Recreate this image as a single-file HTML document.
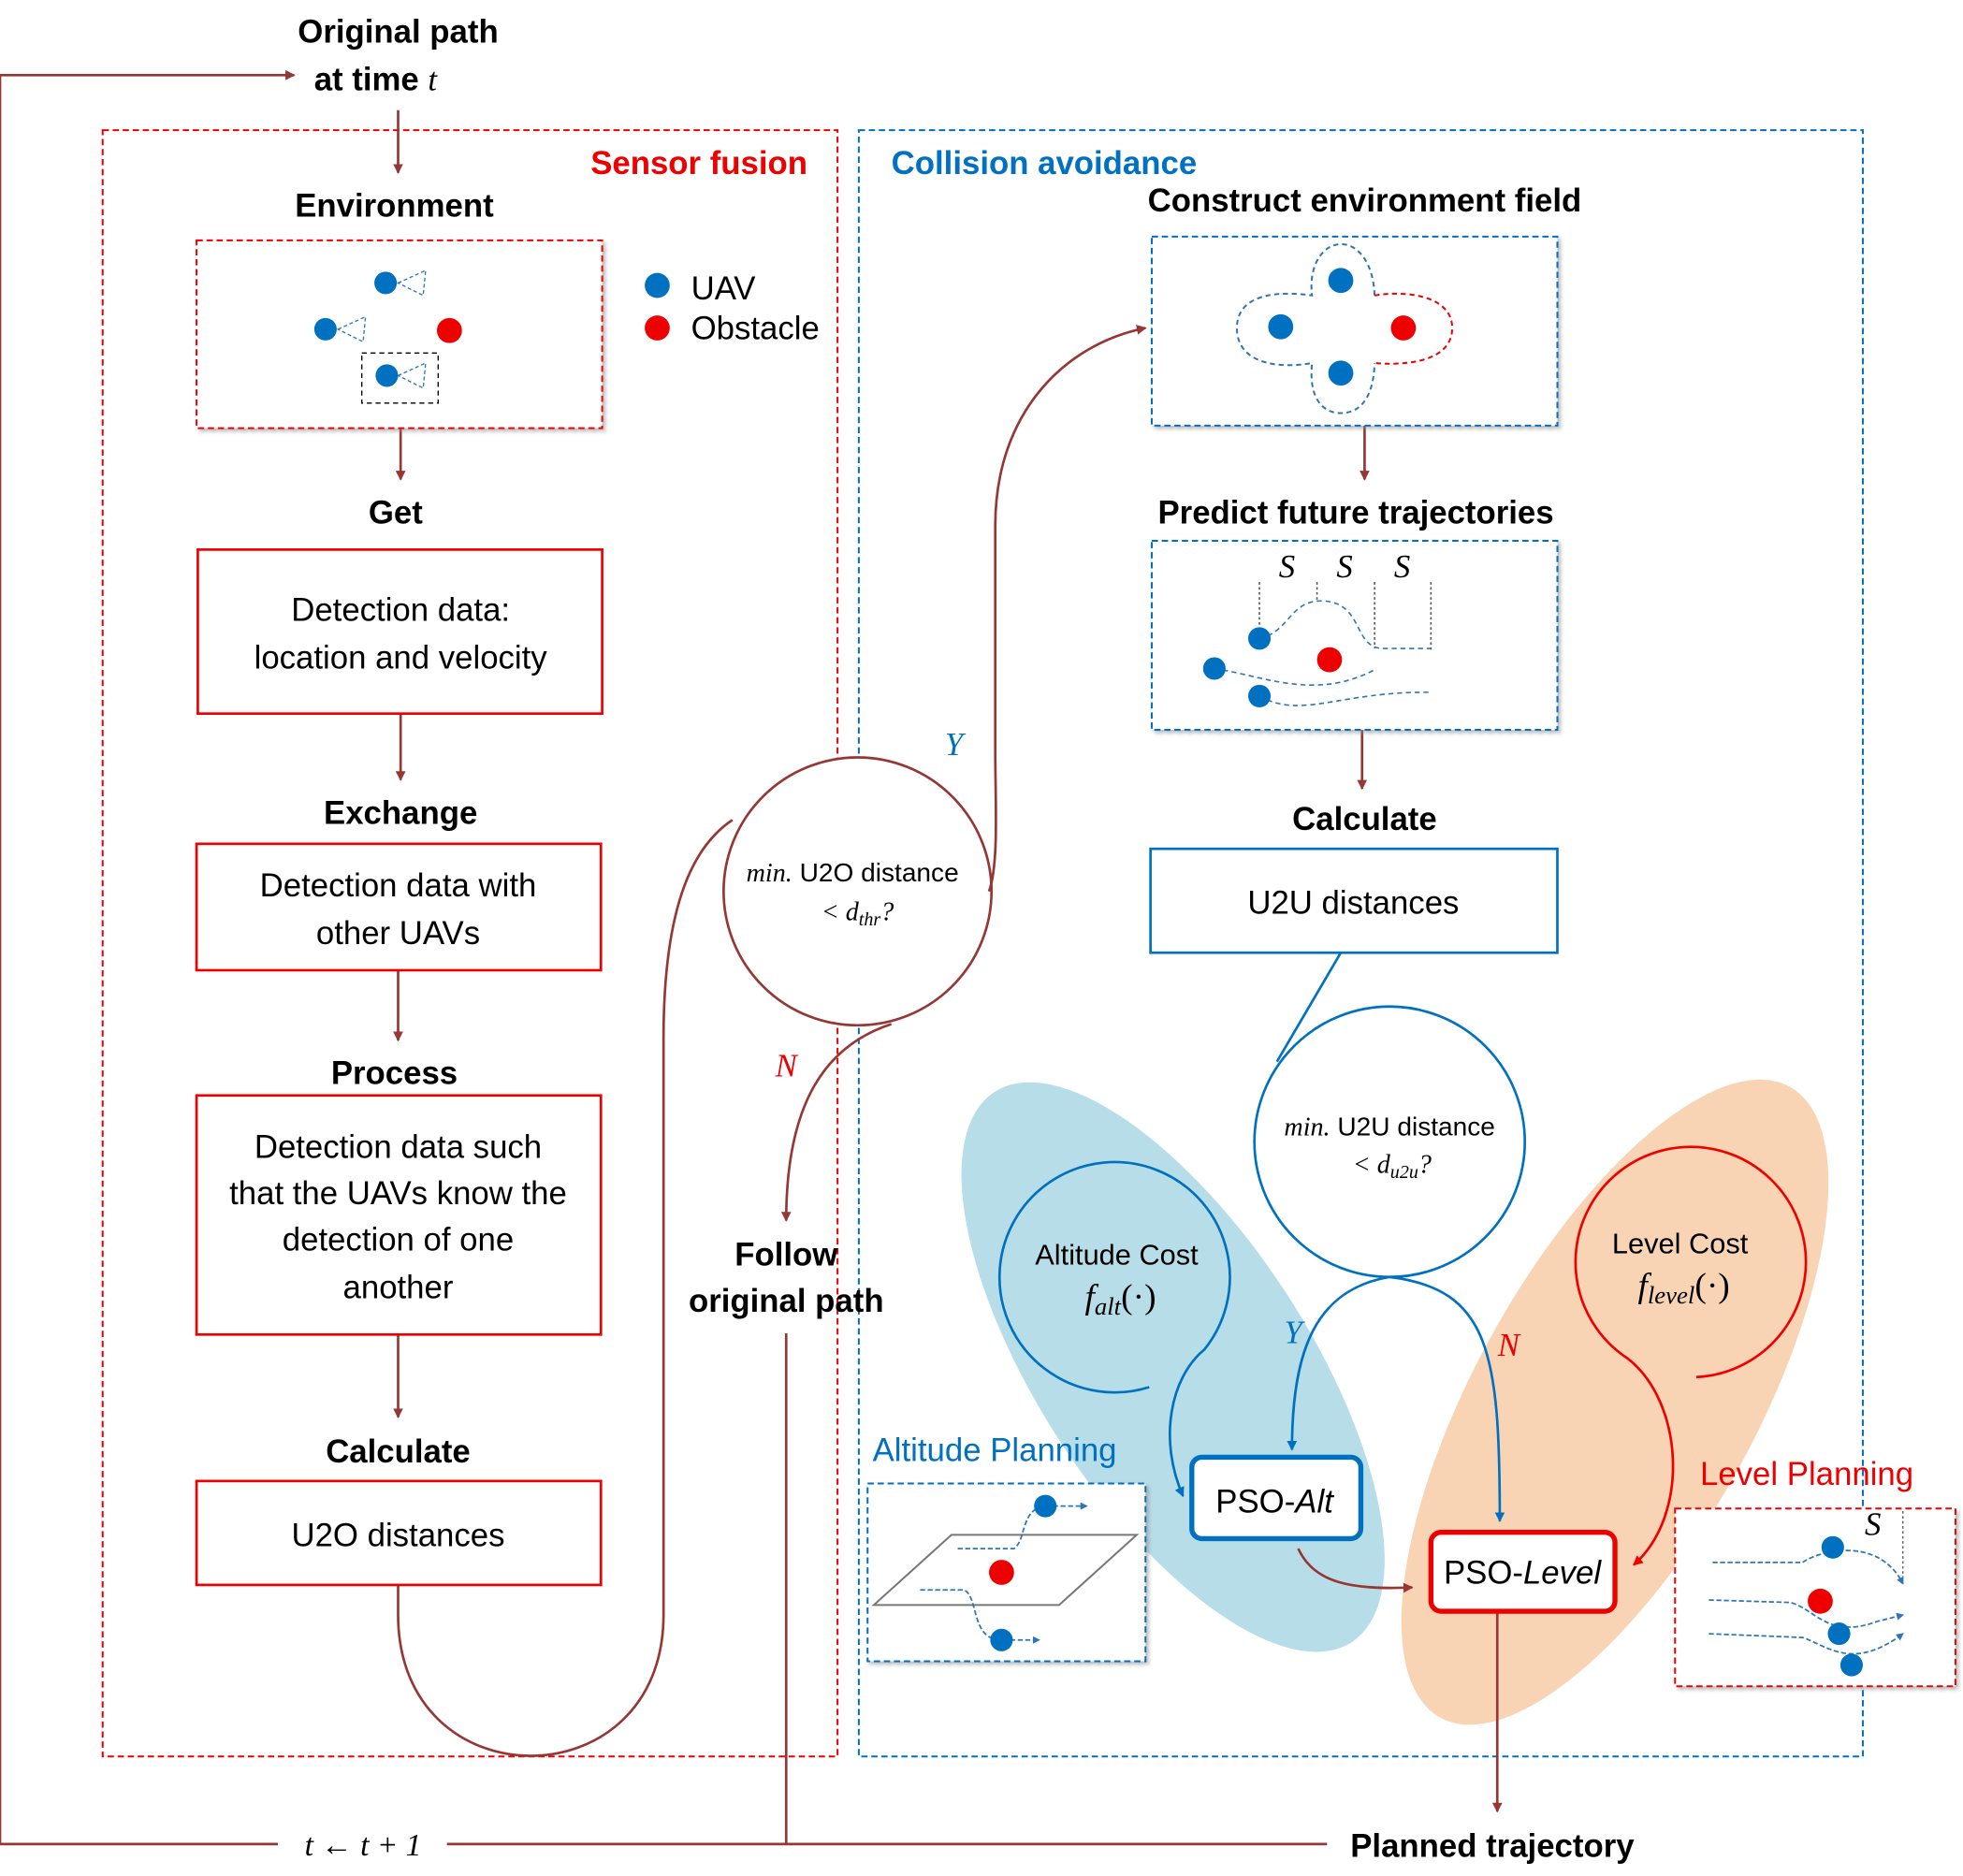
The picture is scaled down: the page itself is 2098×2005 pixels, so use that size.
<!DOCTYPE html>
<html><head><meta charset="utf-8"><style>html,body{margin:0;padding:0;background:#fff}svg{display:block}</style></head>
<body>
<svg width="2098" height="2005" viewBox="0 0 1568 1498.5" xmlns="http://www.w3.org/2000/svg" font-family="Liberation Sans, sans-serif">
<defs>
<marker id="ar" markerWidth="8" markerHeight="8" refX="7" refY="4" orient="auto" markerUnits="userSpaceOnUse"><path d="M0,0 L8,4 L0,8 z" fill="#953735"/></marker>
<marker id="ab" markerWidth="8" markerHeight="8" refX="7" refY="4" orient="auto" markerUnits="userSpaceOnUse"><path d="M0,0 L8,4 L0,8 z" fill="#0070c0"/></marker>
<marker id="arr" markerWidth="8" markerHeight="8" refX="7" refY="4" orient="auto" markerUnits="userSpaceOnUse"><path d="M0,0 L8,4 L0,8 z" fill="#e00"/></marker>
<marker id="sb" markerWidth="6" markerHeight="6" refX="5" refY="3" orient="auto" markerUnits="userSpaceOnUse"><path d="M0,0 L6,3 L0,6 z" fill="#2e75b6"/></marker>
<filter id="sh"><feDropShadow dx="2" dy="2" stdDeviation="1.5" flood-color="#888" flood-opacity="0.6"/></filter>
</defs>
<rect x="82" y="104" width="587" height="1299" fill="none" stroke="#e00" stroke-width="1.5" stroke-dasharray="5,3"/>
<rect x="686" y="104" width="802" height="1299" fill="none" stroke="#0070c0" stroke-width="1.5" stroke-dasharray="5,3"/>
<ellipse cx="937" cy="1092" rx="262" ry="108" transform="rotate(57 937 1092)" fill="#b7dde8"/>
<ellipse cx="1290" cy="1120" rx="288" ry="112" transform="rotate(-61 1290 1120)" fill="#f9d4b4"/>
<g fill="none" stroke="#953735" stroke-width="2">
<path d="M0 1473 L0 60 L235 60" marker-end="url(#ar)"/>
<path d="M0 1473 L222 1473"/>
<path d="M357 1473 L1060 1473"/>
<path d="M318 88 L318 138" marker-end="url(#ar)"/>
<path d="M320 342 L320 383" marker-end="url(#ar)"/>
<path d="M320 570 L320 623" marker-end="url(#ar)"/>
<path d="M318 775 L318 831" marker-end="url(#ar)"/>
<path d="M318 1066 L318 1132" marker-end="url(#ar)"/>
<path d="M318 1266 L318 1290 C318 1440 530 1440 530 1290 L530 830 C530 720 555 675 585 655"/>
<circle cx="685" cy="712" r="107" fill="#fff"/>
<path d="M790 712 C798 690 795 640 795 600 L795 420 C795 330 850 275 915 262" marker-end="url(#ar)"/>
<path d="M712 818 C660 835 628 880 628 975" marker-end="url(#ar)"/>
<path d="M628 1065 L628 1473"/>
<path d="M1090 340 L1090 383" marker-end="url(#ar)"/>
<path d="M1088 583 L1088 630" marker-end="url(#ar)"/>
<path d="M1196 1287 L1196 1447" marker-end="url(#ar)"/>
</g>
<g fill="#fff" filter="url(#sh)">
<rect x="157" y="192" width="324" height="150" stroke="#e00" stroke-width="1.5" stroke-dasharray="5,3"/>
<rect x="920" y="189" width="324" height="151" stroke="#0070c0" stroke-width="1.5" stroke-dasharray="5,3"/>
<rect x="920" y="432" width="324" height="151" stroke="#0070c0" stroke-width="1.5" stroke-dasharray="5,3"/>
<rect x="693" y="1185" width="222" height="142" stroke="#0070c0" stroke-width="1.5" stroke-dasharray="5,3"/>
<rect x="1338" y="1205" width="224" height="142" stroke="#e00" stroke-width="1.5" stroke-dasharray="5,3"/>
</g>
<g fill="#fff" stroke-width="2">
<rect x="158" y="439" width="323" height="131" stroke="#e00"/>
<rect x="157" y="674" width="323" height="101" stroke="#e00"/>
<rect x="157" y="875" width="323" height="191" stroke="#e00"/>
<rect x="157" y="1183" width="323" height="83" stroke="#e00"/>
<rect x="919" y="678" width="325" height="83" stroke="#0070c0"/>
</g>
<rect x="952" y="1164" width="135" height="65" rx="8" fill="#fff" stroke="#0070c0" stroke-width="4"/>
<rect x="1143" y="1224" width="147" height="63" rx="8" fill="#fff" stroke="#e00" stroke-width="4"/>
<g fill="none" stroke="#0070c0" stroke-width="2">
<path d="M1071 761 L1020 848"/>
<circle cx="1110" cy="912" r="108" fill="#fff"/>
<path d="M1110 1020 C1190 1030 1198 1080 1198 1215" marker-end="url(#ab)"/>
<path d="M1110 1020 C1050 1030 1032 1080 1032 1158" marker-end="url(#ab)"/>
<path d="M918 1108 A92 92 0 1 1 962 1078 C935 1100 925 1150 945 1195" marker-end="url(#ab)"/>
</g>
<g fill="none" stroke="#e00" stroke-width="2">
<path d="M1355 1100 A92 92 0 1 0 1300 1085 C1345 1120 1350 1210 1305 1250" marker-end="url(#arr)"/>
</g>
<path d="M1037 1237 C1050 1265 1080 1270 1128 1268" fill="none" stroke="#953735" stroke-width="2" marker-end="url(#ar)"/>
<g>
<path d="M318 226 L340 216 L338 236 Z" fill="none" stroke="#2e75b6" stroke-dasharray="3,2"/>
<circle cx="308" cy="226" r="9" fill="#0070c0"/>
<path d="M270 263 L292 253 L290 273 Z" fill="none" stroke="#2e75b6" stroke-dasharray="3,2"/>
<circle cx="260" cy="263" r="9" fill="#0070c0"/>
<circle cx="359" cy="264" r="10" fill="#e00"/>
<rect x="289" y="282" width="61" height="40" fill="none" stroke="#000" stroke-dasharray="4,3"/>
<path d="M318 300 L340 290 L338 310 Z" fill="none" stroke="#2e75b6" stroke-dasharray="3,2"/>
<circle cx="309" cy="300" r="9" fill="#0070c0"/>
<circle cx="525" cy="228" r="10" fill="#0070c0"/>
<circle cx="525" cy="262" r="10" fill="#e00"/>
</g>
<path d="M1098 236 C1097 210 1085 195 1071 195 C1058 195 1045 210 1048 236 C1020 232 988 235 988 262 C988 290 1020 295 1048 290 C1045 320 1058 330 1071 330 C1085 330 1097 320 1098 290" fill="none" stroke="#2e75b6" stroke-dasharray="4,3" stroke-width="1.5"/>
<path d="M1098 236 C1120 232 1160 235 1160 262 C1160 290 1120 292 1098 290" fill="none" stroke="#e00" stroke-dasharray="4,3" stroke-width="1.5"/>
<circle cx="1071" cy="224" r="10" fill="#0070c0"/><circle cx="1023" cy="261" r="10" fill="#0070c0"/><circle cx="1071" cy="298" r="10" fill="#0070c0"/><circle cx="1121" cy="262" r="10" fill="#e00"/>
<g fill="none" stroke-width="1.2">
<path d="M1006 465 L1006 505 M1052 465 L1052 480 M1098 465 L1098 518 M1143 465 L1143 520" stroke="#555" stroke-dasharray="2,2"/>
<path d="M1006 510 C1030 505 1030 480 1055 480 C1090 480 1080 518 1105 518 L1143 518" stroke="#2e75b6" stroke-dasharray="4,3"/>
<path d="M970 534 C1010 540 1050 560 1098 535" stroke="#2e75b6" stroke-dasharray="4,3"/>
<path d="M1006 556 C1040 575 1070 552 1143 553" stroke="#2e75b6" stroke-dasharray="4,3"/>
</g>
<circle cx="1006" cy="510" r="9" fill="#0070c0"/><circle cx="970" cy="534" r="9" fill="#0070c0"/><circle cx="1006" cy="556" r="9" fill="#0070c0"/><circle cx="1062" cy="527" r="10" fill="#e00"/>
<path d="M698 1282 L760 1226 L908 1226 L846 1282 Z" fill="none" stroke="#777" stroke-width="1.5"/>
<g fill="none" stroke="#2e75b6" stroke-width="1.3">
<path d="M765 1237 L810 1237 C820 1230 815 1205 835 1203 L868 1203" stroke-dasharray="4,2" marker-end="url(#sb)"/>
<path d="M735 1270 L770 1270 C782 1275 775 1310 800 1310 L830 1310" stroke-dasharray="4,2" marker-end="url(#sb)"/>
</g>
<circle cx="835" cy="1203" r="9" fill="#0070c0"/><circle cx="800" cy="1310" r="9" fill="#0070c0"/><circle cx="800" cy="1256" r="10" fill="#e00"/>
<path d="M1520 1207 L1520 1265" stroke="#555" stroke-dasharray="2,2" fill="none"/>
<g fill="none" stroke="#2e75b6" stroke-width="1.3">
<path d="M1368 1248 L1440 1248 C1450 1240 1500 1225 1520 1265" stroke-dasharray="4,2" marker-end="url(#sb)"/>
<path d="M1365 1278 L1430 1280 C1450 1285 1460 1310 1500 1295 L1520 1290" stroke-dasharray="4,2" marker-end="url(#sb)"/>
<path d="M1365 1305 L1440 1308 C1460 1315 1480 1335 1520 1305" stroke-dasharray="4,2" marker-end="url(#sb)"/>
</g>
<circle cx="1464" cy="1236" r="9" fill="#0070c0"/><circle cx="1469" cy="1305" r="9" fill="#0070c0"/><circle cx="1479" cy="1330" r="9" fill="#0070c0"/><circle cx="1454" cy="1279" r="10" fill="#e00"/>
<g font-size="26" font-weight="bold" fill="#000" text-anchor="middle">
<text x="318" y="34">Original path</text>
<text x="300" y="72">at time <tspan font-family="Liberation Serif, serif" font-style="italic" font-weight="normal">t</tspan></text>
<text x="315" y="173">Environment</text>
<text x="316" y="418">Get</text>
<text x="320" y="658">Exchange</text>
<text x="315" y="866">Process</text>
<text x="318" y="1168">Calculate</text>
<text x="628" y="1011">Follow</text>
<text x="628" y="1048">original path</text>
<text x="1090" y="169">Construct environment field</text>
<text x="1083" y="418">Predict future trajectories</text>
<text x="1090" y="663">Calculate</text>
<text x="1192" y="1483">Planned trajectory</text>
</g>
<text x="645" y="139" font-size="26" font-weight="bold" fill="#e00" text-anchor="end">Sensor fusion</text>
<text x="712" y="139" font-size="26" font-weight="bold" fill="#0070c0">Collision avoidance</text>
<g font-size="26" fill="#000" text-anchor="middle">
<text x="320" y="496">Detection data:</text>
<text x="320" y="534">location and velocity</text>
<text x="318" y="716">Detection data with</text>
<text x="318" y="754">other UAVs</text>
<text x="318" y="925">Detection data such</text>
<text x="318" y="962">that the UAVs know the</text>
<text x="318" y="999">detection of one</text>
<text x="318" y="1037">another</text>
<text x="318" y="1235">U2O distances</text>
<text x="1081" y="730">U2U distances</text>
<text x="1018" y="1208">PSO-<tspan font-style="italic">Alt</tspan></text>
<text x="1216" y="1265">PSO-<tspan font-style="italic">Level</tspan></text>
</g>
<text x="552" y="239" font-size="26">UAV</text>
<text x="552" y="271" font-size="26">Obstacle</text>
<g font-size="21" text-anchor="middle">
<text x="681" y="704"><tspan font-family="Liberation Serif, serif" font-style="italic">min.</tspan> U2O distance</text>
<text x="685" y="735" font-family="Liberation Serif, serif" font-style="italic">&lt; d<tspan font-size="15" dy="4">thr</tspan><tspan dy="-4">?</tspan></text>
<text x="1110" y="907"><tspan font-family="Liberation Serif, serif" font-style="italic">min.</tspan> U2U distance</text>
<text x="1112" y="937" font-family="Liberation Serif, serif" font-style="italic">&lt; d<tspan font-size="15" dy="4">u2u</tspan><tspan dy="-4">?</tspan></text>
<text x="892" y="1010" font-size="23">Altitude Cost</text>
<text x="895" y="1045" font-size="28" font-family="Liberation Serif, serif" font-style="italic">f<tspan font-size="20" dy="5">alt</tspan><tspan dy="-5" font-style="normal">(·)</tspan></text>
<text x="1342" y="1001" font-size="23">Level Cost</text>
<text x="1345" y="1036" font-size="28" font-family="Liberation Serif, serif" font-style="italic">f<tspan font-size="20" dy="5">level</tspan><tspan dy="-5" font-style="normal">(·)</tspan></text>
</g>
<g font-family="Liberation Serif, serif" font-style="italic" font-size="26">
<text x="762" y="603" fill="#0070c0" text-anchor="middle">Y</text>
<text x="628" y="860" fill="#e00" text-anchor="middle">N</text>
<text x="1033" y="1073" fill="#0070c0" text-anchor="middle">Y</text>
<text x="1205" y="1083" fill="#e00" text-anchor="middle">N</text>
<text x="1028" y="461" text-anchor="middle">S</text>
<text x="1074" y="461" text-anchor="middle">S</text>
<text x="1120" y="461" text-anchor="middle">S</text>
<text x="1496" y="1226" text-anchor="middle">S</text>
<text x="290" y="1482" text-anchor="middle" font-size="25">t ← t + 1</text>
</g>
<text x="697" y="1167" font-size="26" fill="#0070c0">Altitude Planning</text>
<text x="1358" y="1186" font-size="26" fill="#e00">Level Planning</text>
</svg>
</body></html>
